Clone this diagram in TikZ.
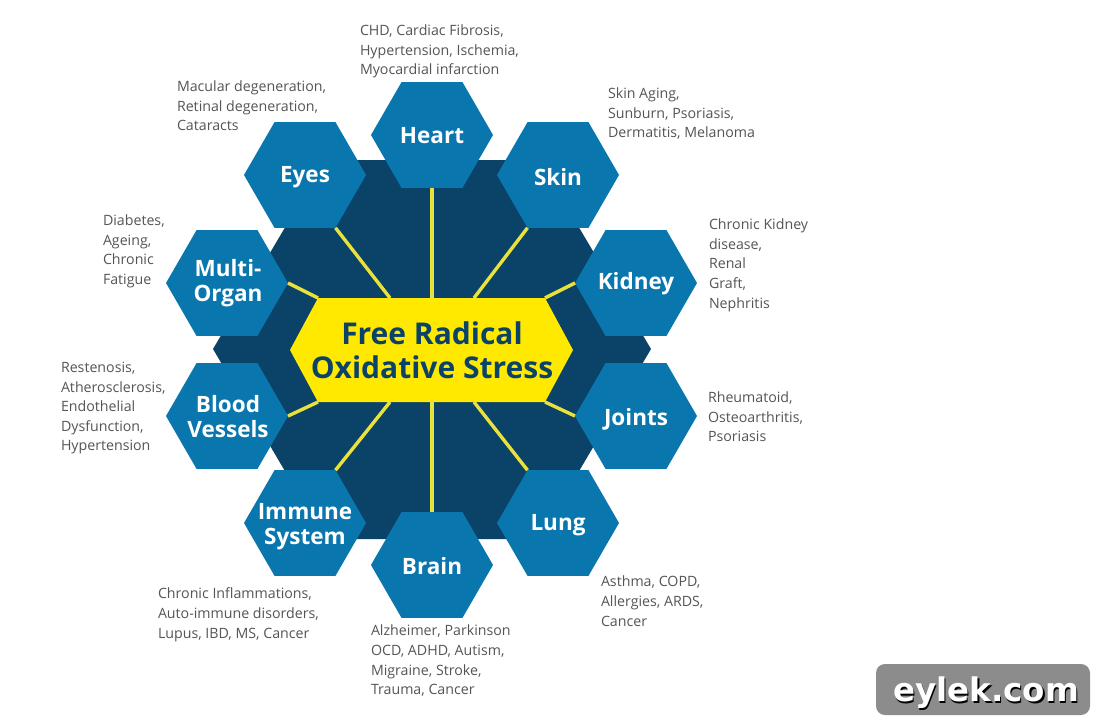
\documentclass[tikz,border=0pt]{standalone}
\usepackage{fontspec}
\setmainfont{Open Sans}
\newfontfamily\markfont{DejaVu Sans}
\usetikzlibrary{shapes.geometric}
\definecolor{hexblue}{HTML}{0A76AE}
\definecolor{navy}{HTML}{0B4268}
\definecolor{coreyellow}{HTML}{FFE900}
\definecolor{linkyellow}{HTML}{E9E23C}
\definecolor{notegrey}{HTML}{555555}
\definecolor{markgrey}{HTML}{8C8C8C}
\tikzset{
  organ/.style={regular polygon,regular polygon sides=6,minimum size=122pt,inner sep=0pt,outer sep=0pt,fill=hexblue},
  organlabel/.style={inner sep=0pt,text=white,align=center,font=\bfseries\fontsize{22.5}{25}\selectfont},
  note/.style={anchor=north west,inner sep=0pt,outer sep=0pt,align=left,text=notegrey,
    font=\fontsize{14.2}{19.6}\selectfont},
  link/.style={draw=linkyellow,line width=3.4pt},
  corelabel/.style={align=center,text=navy,inner sep=0pt,font=\bfseries\fontsize{30}{34}\selectfont},
}
\begin{document}
\begin{tikzpicture}[x=1pt,y=-1pt]
\useasboundingbox (0,0) rectangle (1100,724);
\fill[white] (0,0) rectangle (1100,724);
% dark backing hexagon
\fill[navy] (213,349) -- (325,160) -- (539,160) -- (651,349) -- (539,539) -- (325,539) -- cycle;
% organ hexagons
\node[organ] (heart) at (432,135) {};
\node[organ] (eyes) at (305,175) {};
\node[organ] (skin) at (558,175) {};
\node[organ] (multi) at (227,283) {};
\node[organ] (kidney) at (636,283) {};
\node[organ] (blood) at (227,416) {};
\node[organ] (joints) at (636,416) {};
\node[organ] (immune) at (305,523) {};
\node[organ] (lung) at (558,523) {};
\node[organ] (brain) at (432,565) {};
\node[organlabel] (heartlabel) at (432,136) {Heart};
\node[organlabel] (eyeslabel) at (305,177) {Eyes};
\node[organlabel] (skinlabel) at (558,177) {Skin};
\node[organlabel] (multilabel) at (228,283) {Multi-\\Organ};
\node[organlabel] (kidneylabel) at (636,284) {Kidney};
\node[organlabel] (bloodlabel) at (228,417) {Blood\\Vessels};
\node[organlabel] (jointslabel) at (636,419) {Joints};
\node[organlabel] (immunelabel) at (305,527) {Immune\\System};
\node[organlabel] (lunglabel) at (558,525) {Lung};
\node[organlabel] (brainlabel) at (432,566) {Brain};
% centre attachment points
\coordinate (cT) at (432,298);
\coordinate (cTL) at (390,298);
\coordinate (cTR) at (474,298);
\coordinate (cNW) at (318,298);
\coordinate (cNE) at (545,298);
\coordinate (cW) at (290,350);
\coordinate (cE) at (573,350);
\coordinate (cSW) at (318,402);
\coordinate (cSE) at (545,402);
\coordinate (cBL) at (390,402);
\coordinate (cBR) at (474,402);
\coordinate (cB) at (432,402);
% connectors
\draw[link] (heart.south) -- (cT);
\draw[link] (eyes.corner 5) -- (cTL);
\draw[link] (skin.corner 4) -- (cTR);
\draw[link] (multi.corner 6) -- (cNW);
\draw[link] (kidney.corner 3) -- (cNE);
\draw[link] (blood.corner 6) -- (cSW);
\draw[link] (joints.corner 3) -- (cSE);
\draw[link] (immune.corner 1) -- (cBL);
\draw[link] (lung.corner 2) -- (cBR);
\draw[link] (brain.north) -- (cB);
% centre hexagon
\fill[coreyellow] (cW) -- (cNW) -- (cNE) -- (cE) -- (cSE) -- (cSW) -- cycle;
\node[corelabel] (core) at (432,350) {Free Radical\\Oxidative Stress};
% notes
\node[note] (nheart) at (360,25) {CHD, Cardiac Fibrosis,\\Hypertension, Ischemia,\\Myocardial infarction};
\node[note] (neyes) at (177,81) {Macular degeneration,\\Retinal degeneration,\\Cataracts};
\node[note] (nskin) at (608,88) {Skin Aging,\\Sunburn, Psoriasis,\\Dermatitis, Melanoma};
\node[note] (nmulti) at (103,215) {Diabetes,\\Ageing,\\Chronic\\Fatigue};
\node[note] (nkidney) at (709,219) {Chronic Kidney\\disease,\\Renal\\Graft,\\Nephritis};
\node[note] (nblood) at (61,362) {Restenosis,\\Atherosclerosis,\\Endothelial\\Dysfunction,\\Hypertension};
\node[note] (njoints) at (708,392) {Rheumatoid,\\Osteoarthritis,\\Psoriasis};
\node[note] (nimmune) at (158,588) {Chronic Inflammations,\\Auto-immune disorders,\\Lupus, IBD, MS, Cancer};
\node[note] (nlung) at (601,576) {Asthma, COPD,\\Allergies, ARDS,\\Cancer};
\node[note] (nbrain) at (371,625) {Alzheimer, Parkinson\\OCD, ADHD, Autism,\\Migraine, Stroke,\\Trauma, Cancer};
% watermark
\fill[markgrey,rounded corners=9pt] (876,664) rectangle (1090,715);
\node[inner sep=0pt,text=black,font=\markfont\bfseries\fontsize{32.5}{36}\selectfont] (markshadow) at (987.5,694.5) {eylek.com};
\node[inner sep=0pt,text=white,font=\markfont\bfseries\fontsize{32.5}{36}\selectfont] (mark) at (986,693) {eylek.com};
\end{tikzpicture}
\end{document}
